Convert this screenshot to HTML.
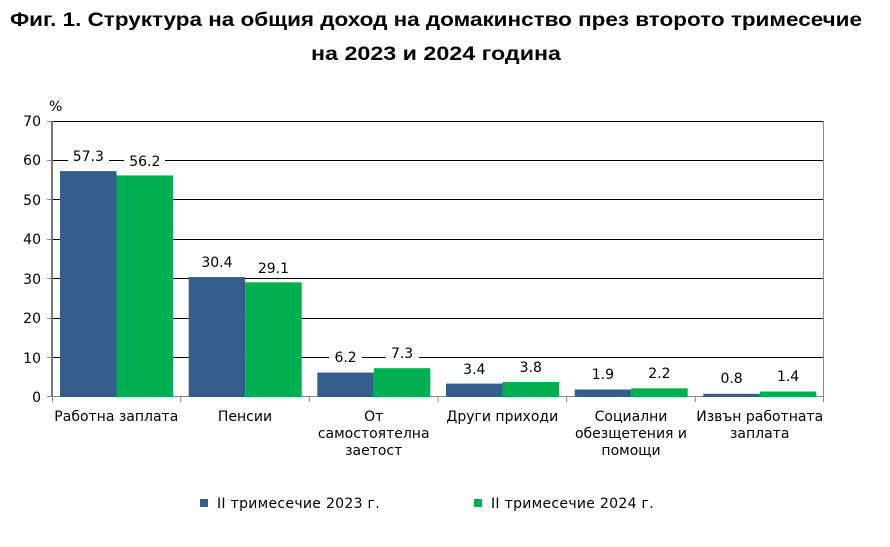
<!DOCTYPE html>
<html><head><meta charset="utf-8"><style>body{margin:0;background:#fff}svg{display:block}</style></head>
<body>
<svg width="890" height="547" xmlns="http://www.w3.org/2000/svg">
<rect width="890" height="547" fill="#fff"/>
<g font-family="Liberation Sans, sans-serif" font-weight="bold" font-size="19" text-anchor="middle" fill="#000">
<text x="436" y="26" textLength="852" lengthAdjust="spacingAndGlyphs">Фиг. 1. Структура на общия доход на домакинство през второто тримесечие</text>
<text x="436" y="60" textLength="250" lengthAdjust="spacingAndGlyphs">на 2023 и 2024 година</text>
</g>
<g stroke="#000" stroke-width="1">
<line x1="52" x2="824" y1="121.5" y2="121.5"/>
<line x1="52" x2="824" y1="160.5" y2="160.5"/>
<line x1="52" x2="824" y1="199.5" y2="199.5"/>
<line x1="52" x2="824" y1="239.5" y2="239.5"/>
<line x1="52" x2="824" y1="278.5" y2="278.5"/>
<line x1="52" x2="824" y1="318.5" y2="318.5"/>
<line x1="52" x2="824" y1="357.5" y2="357.5"/>
</g>
<g stroke="#888" stroke-width="1">
<line x1="47" x2="52" y1="121.5" y2="121.5"/><line x1="47" x2="52" y1="160.5" y2="160.5"/><line x1="47" x2="52" y1="199.5" y2="199.5"/><line x1="47" x2="52" y1="239.5" y2="239.5"/><line x1="47" x2="52" y1="278.5" y2="278.5"/><line x1="47" x2="52" y1="318.5" y2="318.5"/><line x1="47" x2="52" y1="357.5" y2="357.5"/><line x1="47" x2="52" y1="396.5" y2="396.5"/>
<line x1="823.5" x2="823.5" y1="121" y2="397"/>
<line x1="52" x2="824" y1="396.5" y2="396.5"/>
<line x1="52.5" x2="52.5" y1="397" y2="402"/><line x1="180.7" x2="180.7" y1="397" y2="402"/><line x1="309.3" x2="309.3" y1="397" y2="402"/><line x1="438" x2="438" y1="397" y2="402"/><line x1="566.7" x2="566.7" y1="397" y2="402"/><line x1="695.3" x2="695.3" y1="397" y2="402"/><line x1="823.5" x2="823.5" y1="397" y2="402"/>
</g>
<line x1="52" x2="52" y1="121" y2="397" stroke="#777" stroke-width="2"/>
<g fill="#355e8d">
<rect x="60" y="171.1" width="56.5" height="225.9"/>
<rect x="188.7" y="277.1" width="56.5" height="119.9"/>
<rect x="317.3" y="372.6" width="56.5" height="24.4"/>
<rect x="446" y="383.6" width="56.5" height="13.4"/>
<rect x="574.7" y="389.5" width="56.5" height="7.5"/>
<rect x="703.3" y="393.8" width="56.5" height="3.2"/>
</g>
<g fill="#00b050">
<rect x="116.5" y="175.4" width="56.5" height="221.6"/>
<rect x="245.2" y="282.3" width="56.5" height="114.7"/>
<rect x="373.8" y="368.2" width="56.5" height="28.8"/>
<rect x="502.5" y="382" width="56.5" height="15"/>
<rect x="631.2" y="388.3" width="56.5" height="8.7"/>
<rect x="759.8" y="391.5" width="56.5" height="5.5"/>
</g>
<g fill="#fff">
<rect x="68" y="148" width="41" height="16"/><rect x="124" y="152" width="41" height="16"/>
<rect x="196" y="254" width="41" height="16"/><rect x="253" y="259" width="41" height="16"/>
<rect x="329" y="349" width="33" height="16"/><rect x="386" y="345" width="33" height="16"/>
<rect x="458" y="360" width="33" height="16"/><rect x="514" y="359" width="33" height="16"/>
<rect x="587" y="366" width="33" height="16"/><rect x="643" y="365" width="33" height="16"/>
<rect x="715" y="370" width="33" height="16"/><rect x="772" y="368" width="33" height="16"/>
</g>
<g font-family="DejaVu Sans, Verdana, sans-serif" font-size="14" text-anchor="middle" fill="#000">
<text x="88.3" y="161">57.3</text><text x="144.8" y="166">56.2</text>
<text x="216.9" y="267">30.4</text><text x="273.4" y="273">29.1</text>
<text x="345.6" y="362">6.2</text><text x="402.1" y="358">7.3</text>
<text x="474.3" y="374">3.4</text><text x="530.8" y="372">3.8</text>
<text x="602.9" y="379">1.9</text><text x="659.4" y="378">2.2</text>
<text x="731.6" y="383">0.8</text><text x="788.1" y="381">1.4</text>
</g>
<g font-family="DejaVu Sans, Verdana, sans-serif" font-size="14" text-anchor="end" fill="#000">
<text x="41" y="126">70</text><text x="41" y="165">60</text><text x="41" y="205">50</text><text x="41" y="244">40</text><text x="41" y="284">30</text><text x="41" y="323">20</text><text x="41" y="363">10</text><text x="41" y="402">0</text>
</g>
<text x="49" y="111" font-family="DejaVu Sans, sans-serif" font-size="14">%</text>
<g font-family="DejaVu Sans, Verdana, sans-serif" font-size="14" text-anchor="middle" fill="#000">
<text x="116.3" y="421">Работна заплата</text>
<text x="245" y="421">Пенсии</text>
<text x="373.7" y="421">От</text><text x="373.7" y="438">самостоятелна</text><text x="373.7" y="455">заетост</text>
<text x="502.3" y="421">Други приходи</text>
<text x="631" y="421">Социални</text><text x="631" y="438">обезщетения и</text><text x="631" y="455">помощи</text>
<text x="759.7" y="421">Извън работната</text><text x="759.7" y="438">заплата</text>
</g>
<rect x="200" y="499" width="8" height="8" fill="#355e8d"/>
<rect x="474" y="499" width="8" height="8" fill="#00b050"/>
<g font-family="DejaVu Sans, Verdana, sans-serif" font-size="14" fill="#000" letter-spacing="0.3">
<text x="217" y="508">II тримесечие 2023 г.</text>
<text x="491" y="508">II тримесечие 2024 г.</text>
</g>
</svg>
</body></html>
